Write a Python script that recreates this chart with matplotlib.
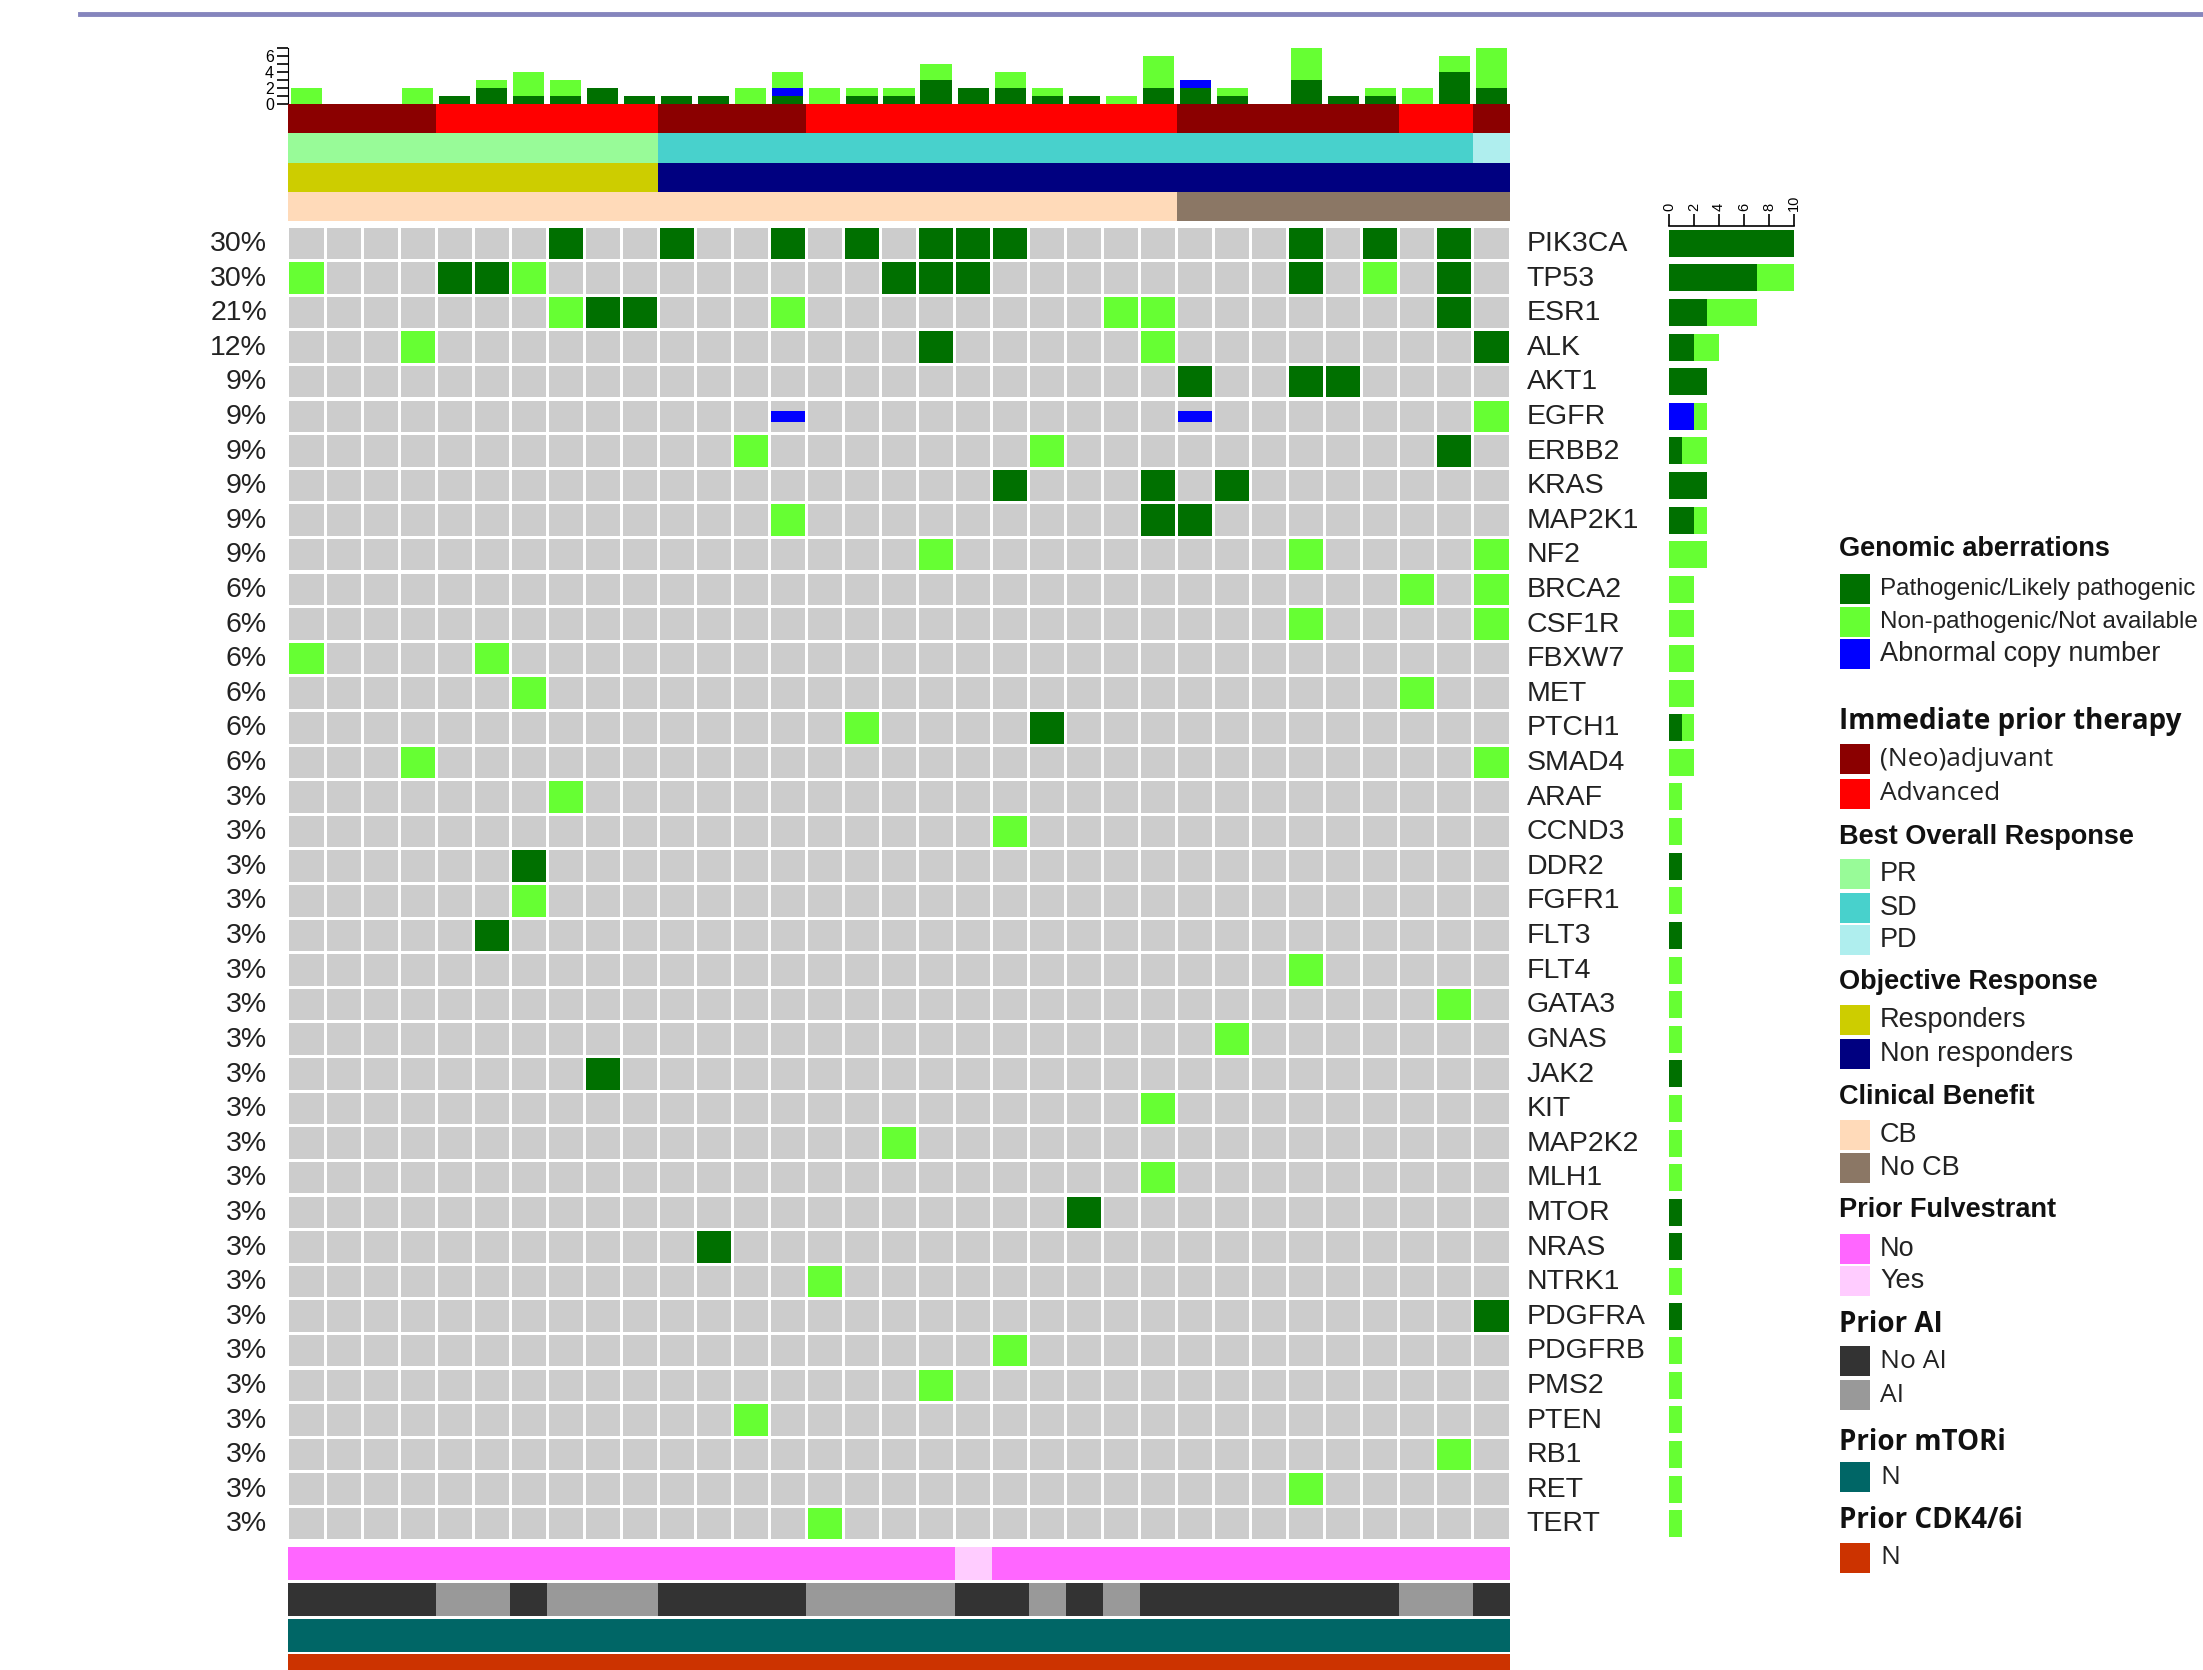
import numpy as np
import matplotlib.pyplot as plt
from matplotlib.patches import Rectangle
from matplotlib.lines import Line2D

plt.rcParams['font.family'] = ['Liberation Sans', 'DejaVu Sans']

W, H = 2203, 1670
n_samples = 33

genes = ['PIK3CA', 'TP53', 'ESR1', 'ALK', 'AKT1', 'EGFR', 'ERBB2', 'KRAS', 'MAP2K1',
         'NF2', 'BRCA2', 'CSF1R', 'FBXW7', 'MET', 'PTCH1', 'SMAD4', 'ARAF', 'CCND3',
         'DDR2', 'FGFR1', 'FLT3', 'FLT4', 'GATA3', 'GNAS', 'JAK2', 'KIT', 'MAP2K2',
         'MLH1', 'MTOR', 'NRAS', 'NTRK1', 'PDGFRA', 'PDGFRB', 'PMS2', 'PTEN', 'RB1',
         'RET', 'TERT']

# sample numbers (1-based) carrying each kind of aberration, one list per gene
pathogenic = [[8, 11, 14, 16, 18, 19, 20, 28, 30, 32], [5, 6, 17, 18, 19, 28, 32],
              [9, 10, 32], [18, 33], [25, 28, 29], [], [32], [20, 24, 26], [24, 25],
              [], [], [], [], [], [21], [], [], [], [7], [], [6], [], [], [], [9],
              [], [], [], [22], [12], [], [33], [], [], [], [], [], []]
non_pathogenic = [[], [1, 7, 30], [8, 14, 23, 24], [4, 24], [], [33], [13, 21], [],
                  [14], [18, 28, 33], [31, 33], [28, 33], [1, 6], [7, 31], [16],
                  [4, 33], [8], [20], [], [7], [], [28], [32], [26], [], [24], [17],
                  [24], [], [], [15], [], [20], [18], [13], [32], [28], [15]]
copy_number = [[], [], [], [], [], [14, 25]] + [[] for _ in range(32)]

# sample annotations
prior_therapy = list('NNNN' 'AAAAAA' 'NNNN' 'AAAAAAAAAA' 'NNNNNN' 'AA' 'N')
best_response = list('PPPPPPPPPP' 'SSSSSSSSSSSSSSSSSSSSSS' 'D')
objective = list('RRRRRRRRRR' 'NNNNNNNNNNNNNNNNNNNNNNN')
benefit = list('CCCCCCCCCCCCCCCCCCCCCCCC' 'NNNNNNNNN')
fulvestrant = list('NNNNNNNNNNNNNNNNNN' 'Y' 'NNNNNNNNNNNNNN')
prior_ai = list('NNNN' 'AA' 'N' 'AAA' 'NNNN' 'AAAA' 'NN' 'A' 'N' 'A' 'NNNNNNN' 'AA' 'N')
prior_mtori = list('N' * n_samples)
prior_cdk = list('N' * n_samples)

DARK, LIGHT, BLUE, GREY = '#007000', '#66FF33', '#0000FF', '#CCCCCC'
therapy_col = {'N': '#8B0000', 'A': '#FF0000'}
response_col = {'P': '#98FB98', 'S': '#48D1CC', 'D': '#AFEEEE'}
objective_col = {'R': '#CDCD00', 'N': '#000080'}
benefit_col = {'C': '#FFDAB9', 'N': '#8B7765'}
fulv_col = {'N': '#FF66FF', 'Y': '#FFCCFF'}
ai_col = {'N': '#333333', 'A': '#999999'}
mtori_col = {'N': '#006666'}
cdk_col = {'N': '#CC3300'}

n_genes = len(genes)
x = np.arange(n_samples)
path_gene = np.array([len(p) for p in pathogenic])
non_gene = np.array([len(p) for p in non_pathogenic])
cna_gene = np.array([len(p) for p in copy_number])
path_samp = np.zeros(n_samples)
non_samp = np.zeros(n_samples)
cna_samp = np.zeros(n_samples)
altered = []
for i in range(n_genes):
    for s in pathogenic[i]:
        path_samp[s - 1] += 1
    for s in non_pathogenic[i]:
        non_samp[s - 1] += 1
    for s in copy_number[i]:
        cna_samp[s - 1] += 1
    altered.append(len(set(pathogenic[i]) | set(non_pathogenic[i]) | set(copy_number[i])))

fig = plt.figure(figsize=(W / 100, H / 100), dpi=100)


def px_axes(x0, y0, x1, y1):
    return fig.add_axes([x0 / W, 1 - y1 / H, (x1 - x0) / W, (y1 - y0) / H])


# header rule
fig.add_artist(Line2D([80 / W, 1], [1 - 14 / H] * 2, color='#8585BD', lw=3.5))

# main grid
ax = px_axes(288, 226, 1510, 1541)
ax.set_xlim(0, n_samples)
ax.set_ylim(n_genes, 0)
ax.axis('off')
cw, ch = 0.92, 0.91
for i in range(n_genes):
    ax.bar(x + 0.5, ch, bottom=i + (1 - ch) / 2, width=cw, color=GREY, linewidth=0)
    if pathogenic[i]:
        s = np.array(pathogenic[i]) - 0.5
        ax.bar(s, ch, bottom=i + (1 - ch) / 2, width=cw, color=DARK, linewidth=0)
    if non_pathogenic[i]:
        s = np.array(non_pathogenic[i]) - 0.5
        ax.bar(s, ch, bottom=i + (1 - ch) / 2, width=cw, color=LIGHT, linewidth=0)
    if copy_number[i]:
        s = np.array(copy_number[i]) - 0.5
        ax.bar(s, 0.3, bottom=i + 0.35, width=cw, color=BLUE, linewidth=0)
    pct = round(100 * altered[i] / n_samples)
    ax.text(-0.57, i + 0.52, f'{pct}%', ha='right', va='center', fontsize=20.5,
            color='#222222')
    ax.text(n_samples + 0.45, i + 0.52, genes[i], ha='left', va='center', fontsize=20.5,
            color='#222222')

# top stacked bars
axt = px_axes(288, 48, 1510, 104)
axt.set_xlim(0, n_samples)
axt.set_ylim(0, 7)
axt.bar(x + 0.5, path_samp, width=0.84, color=DARK, linewidth=0)
axt.bar(x + 0.5, cna_samp, bottom=path_samp, width=0.84, color=BLUE, linewidth=0)
axt.bar(x + 0.5, non_samp, bottom=path_samp + cna_samp, width=0.84, color=LIGHT, linewidth=0)
for sp in ['top', 'right', 'bottom']:
    axt.spines[sp].set_visible(False)
axt.set_xticks([])
axt.set_yticks([0, 2, 4, 6])
axt.set_yticks([1, 3, 5, 7], minor=True)
axt.tick_params(axis='y', which='both', length=8, width=1.2, labelsize=11.5, pad=2)

# top annotation tracks
axa = px_axes(288, 104, 1510, 221)
axa.set_xlim(0, n_samples)
axa.set_ylim(4, 0)
axa.axis('off')
top_tracks = [(prior_therapy, therapy_col), (best_response, response_col),
              (objective, objective_col), (benefit, benefit_col)]
for k, (vals, cmap) in enumerate(top_tracks):
    axa.bar(x + 0.5, 1, bottom=k, width=1.0, color=[cmap[v] for v in vals], linewidth=0)

# bottom annotation tracks
axb = px_axes(288, 1547, 1510, 1690)
axb.set_xlim(0, n_samples)
axb.set_ylim(4, 0)
axb.axis('off')
bottom_tracks = [(fulvestrant, fulv_col), (prior_ai, ai_col), (prior_mtori, mtori_col),
                 (prior_cdk, cdk_col)]
for k, (vals, cmap) in enumerate(bottom_tracks):
    axb.bar(x + 0.5, 0.93, bottom=k, width=1.0, color=[cmap[v] for v in vals], linewidth=0)

# right bars: counts per gene
axr = px_axes(1669, 226, 1794, 1541)
axr.set_xlim(0, 10)
axr.set_ylim(n_genes, 0)
yy = np.arange(n_genes) + 0.5
axr.barh(yy, path_gene, height=0.78, color=DARK, linewidth=0)
axr.barh(yy, cna_gene, left=path_gene, height=0.78, color=BLUE, linewidth=0)
axr.barh(yy, non_gene, left=path_gene + cna_gene, height=0.78, color=LIGHT, linewidth=0)
for sp in ['right', 'bottom', 'left']:
    axr.spines[sp].set_visible(False)
axr.spines['top'].set_linewidth(1.2)
axr.set_yticks([])
axr.xaxis.tick_top()
axr.set_xticks([0, 2, 4, 6, 8, 10])
axr.tick_params(axis='x', length=9, width=1.2, labelsize=10.5, labelrotation=90, pad=2)

# legend
axl = px_axes(1830, 500, W, H)
axl.set_xlim(1830, W)
axl.set_ylim(H, 500)
axl.axis('off')
ARIAL = ['Liberation Sans', 'DejaVu Sans']
MYRIAD = ['Open Sans', 'DejaVu Sans']
legend_groups = [
    ('Genomic aberrations', ARIAL, 549,
     [('Pathogenic/Likely pathogenic', DARK), ('Non-pathogenic/Not available', LIGHT),
      ('Abnormal copy number', BLUE)], [589, 622, 654]),
    ('Immediate prior therapy', MYRIAD, 722,
     [('(Neo)adjuvant', therapy_col['N']), ('Advanced', therapy_col['A'])], [759, 794]),
    ('Best Overall Response', ARIAL, 837,
     [('PR', response_col['P']), ('SD', response_col['S']), ('PD', response_col['D'])],
     [874, 908, 940]),
    ('Objective Response', ARIAL, 982,
     [('Responders', objective_col['R']), ('Non responders', objective_col['N'])],
     [1020, 1054]),
    ('Clinical Benefit', ARIAL, 1097,
     [('CB', benefit_col['C']), ('No CB', benefit_col['N'])], [1135, 1168]),
    ('Prior Fulvestrant', ARIAL, 1210,
     [('No', fulv_col['N']), ('Yes', fulv_col['Y'])], [1249, 1281]),
    ('Prior AI', MYRIAD, 1325,
     [('No AI', ai_col['N']), ('AI', ai_col['A'])], [1361, 1395]),
    ('Prior mTORi', MYRIAD, 1442, [('N', mtori_col['N'])], [1477]),
    ('Prior CDK4/6i', MYRIAD, 1520, [('N', cdk_col['N'])], [1558]),
]
for title, font, ty, items, iys in legend_groups:
    tsize = 20 if font is MYRIAD else 19.5
    axl.text(1839, ty, title, fontsize=tsize, fontweight='bold', family=font,
             ha='left', va='center', color='#111111')
    for (lab, col), iy in zip(items, iys):
        axl.add_patch(Rectangle((1840, iy - 15), 30, 30, color=col, linewidth=0))
        isize = 19 if font is MYRIAD else 19.5
        if len(lab) > 22:
            isize = 17.5  # long labels shrunk to stay inside the figure
        axl.text(1880, iy, lab, fontsize=isize, family=font, ha='left', va='center',
                 color='#222222')

fig.savefig('out.png', dpi=100)
